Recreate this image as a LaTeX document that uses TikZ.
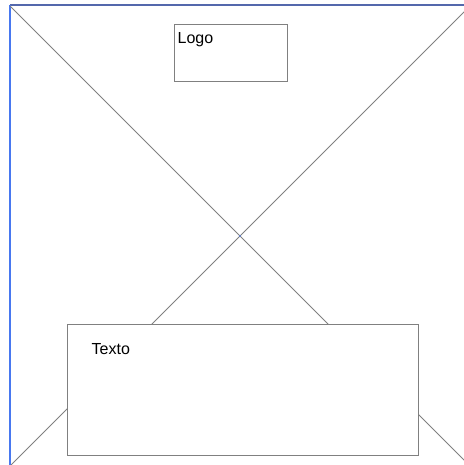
\documentclass[tikz,border=0pt]{standalone}
\usepackage{fontspec}
\setmainfont{Liberation Sans}
\usepackage{xcolor}
\definecolor{framblue}{RGB}{84, 104, 172}
\definecolor{sideblue}{RGB}{72, 120, 240}
\definecolor{wiregray}{RGB}{128, 128, 128}
\usetikzlibrary{positioning}

\tikzset{
    wire/.style={draw=wiregray, line width=1pt},
    placebox/.style={draw=wiregray, line width=1pt, fill=white, inner sep=0pt, anchor=north west},
    boxtext/.style={inner sep=0pt, anchor=base west, font=\fontsize{16}{19}\selectfont}
}

\begin{document}
\begin{tikzpicture}[x=1pt, y=-1pt]
\useasboundingbox (0, 0) rectangle (463, 465);

% === Marco ===
\coordinate (tl) at (10, 5);
\coordinate (tr) at (471, 5);
\coordinate (bl) at (10, 465);
\coordinate (br) at (469, 465);
\draw[framblue, line width=2pt] (tl) -- (tr);
\draw[sideblue, line width=2pt] (tl) -- (bl);

% === Diagonales ===
\draw[wire] ([yshift=-1pt]tl) -- (br);
\draw[wire] (tr) -- ([xshift=1pt]bl);
\fill[sideblue] (240, 236) circle (0.8pt);

% === Logo ===
\node[placebox, minimum width=113pt, minimum height=57pt] (logo) at (174, 24) {};
\node[boxtext] (logotext) at ([xshift=3.5pt, yshift=-20pt]logo.north west) {Logo};

% === Texto ===
\node[placebox, minimum width=351pt, minimum height=131pt] (texto) at (67, 324) {};
\node[boxtext] (textotext) at ([xshift=24.5pt, yshift=-30pt]texto.north west) {Texto};

\end{tikzpicture}
\end{document}
